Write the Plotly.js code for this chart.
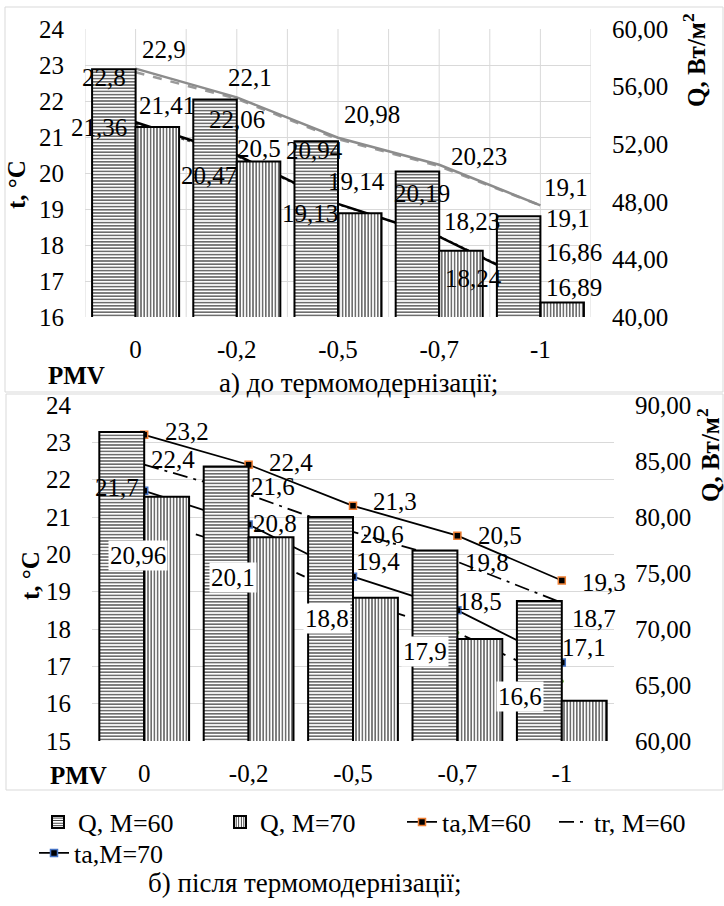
<!DOCTYPE html>
<html><head><meta charset="utf-8">
<script src="https://cdn.plot.ly/plotly-3.0.1.min.js"></script>
<style>html,body{margin:0;padding:0;background:#fff}#chart{width:724px;height:906px}</style>
</head><body><div id="chart"></div>
<script>
// ---------- data ----------
const pmv = ['0', '-0,2', '-0,5', '-0,7', '-1'];
// (a) before thermomodernization
const qA60 = [57.2, 55.1, 52.2, 50.1, 47.0];
const qA70 = [53.2, 50.8, 47.2, 44.6, 41.0];
const tA1 = [22.9, 22.1, 20.98, 20.23, 19.1];
const tA2 = [22.8, 22.06, 20.94, 20.19, 19.1];
const tA3 = [21.41, 20.5, 19.14, 18.23, 16.86];
const tA4 = [21.36, 20.47, 19.13, 18.24, 16.89];
// (b) after thermomodernization
const qB60 = [87.6, 84.5, 80.0, 77.0, 72.5];
const qB70 = [81.8, 78.2, 72.8, 69.1, 63.6];
const taB60 = [23.2, 22.4, 21.3, 20.5, 19.3];
const trB60 = [22.4, 21.6, 20.6, 19.8, 18.7];
const taB70 = [21.7, 20.8, 19.4, 18.5, 17.1];
const trB70 = [20.96, 20.1, 18.8, 17.9, 16.6];

// ---------- label offsets (px: right, down) ----------
const offA1 = [[28,-19],[13,-20],[34,-23],[40,-8],[26,-18]];
const offA2 = [[-32,5],[0,21],[-24,11],[-17,27],[28,13]];
const offA3 = [[31,-17],[22,-7],[18,-22],[33,-15],[34,-34]];
const offA4 = [[-37,3],[-28,19],[-28,9],[34,42],[34,3]];
const offB1 = [[43,-3],[42,-2],[42,-4],[43,0],[42,2]];
const offB2 = [[29,-5],[24,-8],[29,3],[30,1],[32,16]];
const offB3 = [[-27,-3],[26,-1],[25,-15],[23,-9],[22,-15]];
const offB4 = [[-6,37],[-16,27],[-26,19],[-32,19],[-42,15]];

const F = "'Liberation Serif', 'Times New Roman', serif";
const W = 724, H = 906;
const px = x => x / W, py = y => 1 - y / H;
const fmt = v => String(v).replace('.', ',');

function hatch(shape) {
  return {color: 'white', line: {color: 'black', width: 2},
          pattern: {shape: shape, fgcolor: '#222', bgcolor: 'white', size: 3.2, solidity: 0.33, fillmode: 'replace'}};
}

const traces = [
  {type: 'bar', x: pmv, y: qA60, xaxis: 'x', yaxis: 'y2', name: 'Q, M=60', marker: hatch('-'), showlegend: false},
  {type: 'bar', x: pmv, y: qA70, xaxis: 'x', yaxis: 'y2', name: 'Q, M=70', marker: hatch('|'), showlegend: false},
  {type: 'scatter', mode: 'lines', x: pmv, y: tA2, xaxis: 'x', yaxis: 'y', line: {color: '#9a9a9a', width: 2.5, dash: 'dash'}, showlegend: false},
  {type: 'scatter', mode: 'lines', x: pmv, y: tA1, xaxis: 'x', yaxis: 'y', line: {color: '#8c8c8c', width: 2.5}, showlegend: false},
  {type: 'scatter', mode: 'lines', x: pmv, y: tA4, xaxis: 'x', yaxis: 'y', line: {color: '#444', width: 2, dash: 'dot'}, showlegend: false},
  {type: 'scatter', mode: 'lines', x: pmv, y: tA3, xaxis: 'x', yaxis: 'y', line: {color: 'black', width: 2.5}, showlegend: false},
  {type: 'bar', x: pmv, y: qB60, xaxis: 'x2', yaxis: 'y4', name: 'Q, M=60', marker: hatch('-'), legend: 'legend'},
  {type: 'bar', x: pmv, y: qB70, xaxis: 'x2', yaxis: 'y4', name: 'Q, M=70', marker: hatch('|'), legend: 'legend2'},
  {type: 'scatter', mode: 'lines+markers', x: pmv, y: taB60, xaxis: 'x2', yaxis: 'y3', name: 'ta,M=60',
   line: {color: 'black', width: 1.8}, marker: {symbol: 'square', size: 7, color: 'black', line: {color: '#ed7d31', width: 1.5}}, legend: 'legend3'},
  {type: 'scatter', mode: 'lines', x: pmv, y: trB60, xaxis: 'x2', yaxis: 'y3', name: 'tr, M=60',
   line: {color: 'black', width: 1.8, dash: 'longdashdot'}, legend: 'legend4'},
  {type: 'scatter', mode: 'lines+markers', x: pmv, y: taB70, xaxis: 'x2', yaxis: 'y3', name: 'ta,M=70',
   line: {color: 'black', width: 1.8}, marker: {symbol: 'square', size: 7, color: 'black', line: {color: '#4472c4', width: 1.5}}, legend: 'legend5'},
  {type: 'scatter', mode: 'lines+markers', x: pmv, y: trB70, xaxis: 'x2', yaxis: 'y3', name: 'tr, M=70',
   line: {color: 'black', width: 1.8, dash: 'dash'}, marker: {size: 4, color: '#70ad47'}, showlegend: false}
];

const annotations = [];
function addLabels(vals, offs, xr, yr, bg) {
  vals.forEach((v, i) => {
    annotations.push({x: i, y: v, xref: xr, yref: yr, text: fmt(v), showarrow: false,
      xanchor: 'center', yanchor: 'middle', xshift: offs[i][0], yshift: -offs[i][1],
      font: {family: F, size: 25, color: 'black'}, bgcolor: bg || 'rgba(0,0,0,0)', borderpad: 1});
  });
}
addLabels(tA1, offA1, 'x', 'y');
addLabels(tA2, offA2, 'x', 'y');
addLabels(tA3, offA3, 'x', 'y');
addLabels(tA4, offA4, 'x', 'y');
addLabels(taB60, offB1, 'x2', 'y3');
addLabels(trB60, offB2, 'x2', 'y3');
addLabels(taB70, offB3, 'x2', 'y3');
addLabels(trB70, offB4, 'x2', 'y3', 'white');

function txt(x, y, text, size, angle) {
  annotations.push({x: px(x), y: py(y), xref: 'paper', yref: 'paper', text: text, showarrow: false,
    xanchor: 'center', yanchor: 'middle', textangle: angle || 0, font: {family: F, size: size, color: 'black'}});
}
txt(76, 375, '<b>PMV</b>', 25);
txt(78, 775, '<b>PMV</b>', 25);
txt(358, 383, 'а) до термомодернізації;', 27);
txt(305, 883, 'б) після термомодернізації;', 27);
txt(16, 185, '<b>t, °C</b>', 25, -90);
txt(30, 576, '<b>t, °C</b>', 25, -90);
txt(694, 60, '<b>Q, Вт/м<sup>2</sup></b>', 25, -90);
txt(708, 455, '<b>Q, Вт/м<sup>2</sup></b>', 25, -90);

const shapes = [];
for (let k = -0.5; k <= 4.5; k += 0.5) {
  shapes.push({type: 'line', xref: 'x', yref: 'y domain', x0: k, x1: k, y0: 0, y1: 1,
    line: {color: '#d9d9d9', width: 1}, layer: 'below'});
}
shapes.push({type: 'rect', xref: 'paper', yref: 'paper', x0: px(5), x1: px(723), y0: py(392), y1: py(7),
  line: {color: '#d9d9d9', width: 1}, layer: 'below'});
shapes.push({type: 'rect', xref: 'paper', yref: 'paper', x0: px(6), x1: px(723), y0: py(790), y1: py(394),
  line: {color: '#d9d9d9', width: 1}, layer: 'below'});

const axT = {family: F, size: 25, color: 'black'};
function leg(xText, yc) {
  return {x: px(xText - 40), y: py(yc), xanchor: 'left', yanchor: 'middle', orientation: 'h',
    bgcolor: 'rgba(0,0,0,0)', font: {family: F, size: 26, color: 'black'}};
}

const layout = {
  width: W, height: H, margin: {l: 0, r: 0, t: 0, b: 0},
  paper_bgcolor: 'white', plot_bgcolor: 'rgba(0,0,0,0)',
  separators: ', ', font: {family: F, size: 25, color: 'black'},
  barmode: 'group', bargap: 0.14, bargroupgap: 0,
  xaxis: {domain: [px(85), px(591)], anchor: 'y', type: 'category', range: [-0.5, 4.5], autorange: false,
          showgrid: false, ticks: '', tickfont: axT, ticklabelstandoff: 15, showline: false, zeroline: false},
  yaxis: {domain: [py(317), py(29)], anchor: 'x', range: [16, 24], tick0: 16, dtick: 1,
          gridcolor: '#d9d9d9', gridwidth: 1, zeroline: false, showline: false, ticks: '',
          tickfont: axT, ticklabelstandoff: 20},
  yaxis2: {overlaying: 'y', side: 'right', anchor: 'x', range: [40, 60], tick0: 40, dtick: 4,
           tickformat: '.2f', showgrid: false, zeroline: false, showline: false, ticks: '',
           tickfont: axT, ticklabelstandoff: 20},
  xaxis2: {domain: [px(92), px(614)], anchor: 'y3', type: 'category', range: [-0.5, 4.5], autorange: false,
           showgrid: false, ticks: '', tickfont: axT, ticklabelstandoff: 15, showline: false, zeroline: false},
  yaxis3: {domain: [py(741), py(405)], anchor: 'x2', range: [15, 24], tick0: 15, dtick: 1,
           gridcolor: '#d9d9d9', gridwidth: 1, zeroline: false, showline: false, ticks: '',
           tickfont: axT, ticklabelstandoff: 20},
  yaxis4: {overlaying: 'y3', side: 'right', anchor: 'x2', range: [60, 90], tick0: 60, dtick: 5,
           tickformat: '.2f', showgrid: false, zeroline: false, showline: false, ticks: '',
           tickfont: axT, ticklabelstandoff: 20},
  legend: leg(78, 822),
  legend2: leg(260, 822),
  legend3: leg(442, 822),
  legend4: leg(594, 822),
  legend5: leg(74, 853),
  annotations: annotations,
  shapes: shapes
};

Plotly.newPlot('chart', traces, layout, {staticPlot: true, displayModeBar: false});
</script>
</body></html>
